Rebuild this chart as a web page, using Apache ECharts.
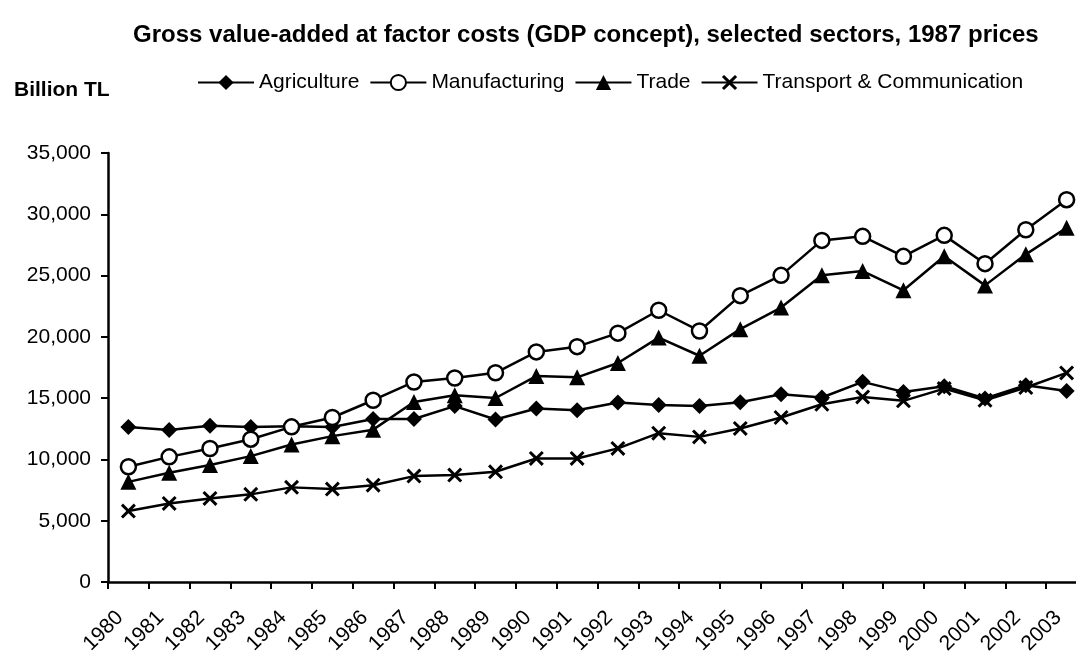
<!DOCTYPE html>
<html>
<head>
<meta charset="utf-8">
<title>Gross value-added at factor costs</title>
<script src="https://cdn.jsdelivr.net/npm/echarts@6/dist/echarts.min.js"></script>
<style>
    html, body { margin: 0; padding: 0; background: #fff; }
    #gva { width: 1076px; height: 651px; }
</style>
</head>
<body>
<div id="gva"></div>
<script>
// 数据（十亿TL，1987年价格）
var years = ['1980', '1981', '1982', '1983', '1984', '1985', '1986', '1987', '1988', '1989', '1990', '1991',
    '1992', '1993', '1994', '1995', '1996', '1997', '1998', '1999', '2000', '2001', '2002', '2003'];

var agriculture = [12650, 12400, 12750, 12650, 12700, 12650, 13300, 13300, 14350, 13260, 14160, 14020,
    14650, 14450, 14350, 14670, 15320, 15050, 16330, 15510, 15970, 14970, 16050, 15590];

var manufacturing = [9400, 10210, 10890, 11650, 12660, 13420, 14830, 16320, 16640, 17070, 18770, 19200,
    20300, 22170, 20480, 23360, 25020, 27870, 28200, 26570, 28280, 25970, 28740, 31190];

var trade = [8170, 8910, 9540, 10270, 11220, 11900, 12430, 14690, 15240, 15010, 16800, 16700,
    17870, 19940, 18460, 20630, 22390, 25020, 25370, 23800, 26570, 24200, 26730, 28900];

var transport = [5790, 6410, 6820, 7150, 7720, 7580, 7900, 8640, 8720, 8990, 10080, 10080,
    10900, 12140, 11840, 12530, 13420, 14500, 15100, 14780, 15780, 14830, 15870, 17060];

var yTicks = [0, 5000, 10000, 15000, 20000, 25000, 30000, 35000];

var font = "'Liberation Sans', Arial, sans-serif";

// X 形标记（填充多边形）
var crossPath = 'path://M0,1.4L1.4,0L5,3.6L8.6,0L10,1.4L6.4,5L10,8.6L8.6,10L5,6.4L1.4,10L0,8.6L3.6,5Z';

//获取元素
var gvaChart = echarts.init(document.getElementById('gva'));

function makeSeries(name, data, symbol, size, fill) {
    return {
        name: name,
        type: 'line',
        data: data,
        symbol: symbol,
        symbolSize: size,
        showSymbol: true,
        lineStyle: { color: '#000', width: 2.5 },
        itemStyle: {
            color: fill,
            borderColor: '#000',
            borderWidth: symbol === 'circle' ? 2.5 : 0
        },
        emphasis: { disabled: true }
    };
}

var option = {
    backgroundColor: '#fff',
    animation: false,
    title: [{
        text: 'Gross value-added at factor costs (GDP concept), selected sectors, 1987 prices',
        left: 128,
        top: 18,
        textStyle: { fontFamily: font, fontSize: 24, fontWeight: 'bold', color: '#000' }
    }, {
        text: 'Billion TL',
        left: 9,
        top: 75,
        textStyle: { fontFamily: font, fontSize: 21, fontWeight: 'bold', color: '#000' }
    }],
    legend: {
        left: 192,
        top: 67,
        itemWidth: 56,
        itemHeight: 19,
        itemGap: 10,
        textStyle: { fontFamily: font, fontSize: 21, color: '#000' },
        data: ['Agriculture', 'Manufacturing', 'Trade', 'Transport & Communication']
    },
    grid: {
        left: 108,
        right: -11,
        top: 153,
        bottom: 69,
        containLabel: false,
        outerBoundsMode: 'none'
    },
    xAxis: {
        type: 'category',
        data: years,
        boundaryGap: true,
        axisLine: { show: true, lineStyle: { color: '#000', width: 2.5 } },
        axisTick: { show: true, interval: 0, length: 7, lineStyle: { color: '#000', width: 2 } },
        axisLabel: {
            interval: 0,
            rotate: 45,
            margin: 24,
            padding: [0, 12, 0, 0],
            color: '#000',
            fontFamily: font,
            fontSize: 21
        },
        splitLine: { show: false }
    },
    yAxis: {
        type: 'value',
        min: yTicks[0],
        max: yTicks[yTicks.length - 1],
        interval: 5000,
        axisLine: { show: true, lineStyle: { color: '#000', width: 2.5 } },
        axisTick: { show: true, length: 7, lineStyle: { color: '#000', width: 2 } },
        axisLabel: {
            margin: 17,
            color: '#000',
            fontFamily: font,
            fontSize: 21,
            formatter: function (v) {
                return v.toLocaleString('en-US');
            }
        },
        splitLine: { show: false }
    },
    series: [
        makeSeries('Agriculture', agriculture, 'diamond', 16, '#000'),
        makeSeries('Manufacturing', manufacturing, 'circle', 15, '#fff'),
        makeSeries('Trade', trade, 'triangle', 16, '#000'),
        makeSeries('Transport & Communication', transport, crossPath, 15, '#000')
    ]
};

//绘制图表
gvaChart.setOption(option);
</script>
</body>
</html>
